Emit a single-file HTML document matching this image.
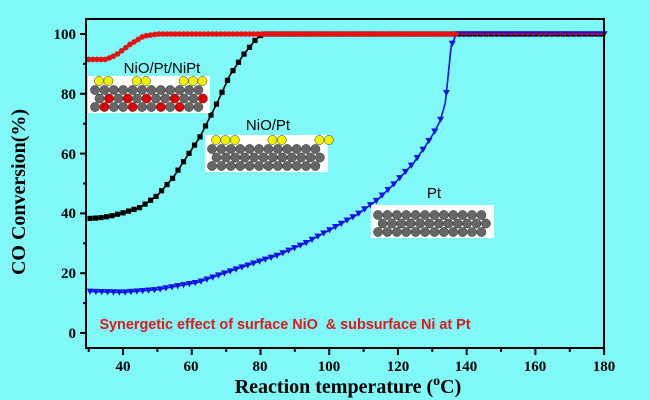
<!DOCTYPE html>
<html><head><meta charset="utf-8"><style>
html,body{margin:0;padding:0;background:#80F8F8;}
svg{display:block;}
</style></head><body>
<svg id="s" width="650" height="400" xmlns="http://www.w3.org/2000/svg">
<rect width="650" height="400" fill="#80F8F8"/>
<g id="plot"></g>
<rect x="86" y="19" width="518" height="329" fill="none" stroke="#000" stroke-width="2"/>
<g font-family="Liberation Serif, serif" font-weight="bold" font-size="15" fill="#000">
<text x="76" y="39" text-anchor="end">100</text>
<text x="76" y="99" text-anchor="end">80</text>
<text x="76" y="159" text-anchor="end">60</text>
<text x="76" y="218" text-anchor="end">40</text>
<text x="76" y="278" text-anchor="end">20</text>
<text x="76" y="338" text-anchor="end">0</text>
<text x="123" y="371" text-anchor="middle">40</text>
<text x="191" y="371" text-anchor="middle">60</text>
<text x="260" y="371" text-anchor="middle">80</text>
<text x="329" y="371" text-anchor="middle">100</text>
<text x="398" y="371" text-anchor="middle">120</text>
<text x="466" y="371" text-anchor="middle">140</text>
<text x="535" y="371" text-anchor="middle">160</text>
<text x="604" y="371" text-anchor="middle">180</text>
<text x="348" y="393" text-anchor="middle" font-size="20">Reaction temperature (<tspan font-size="14" dy="-8">o</tspan><tspan dy="8">C)</tspan></text>
<text transform="translate(25,192) rotate(-90)" text-anchor="middle" font-size="20">CO Conversion(%)</text>
</g>
<text x="285" y="329" text-anchor="middle" font-family="Liberation Sans, sans-serif" font-weight="bold" font-size="14.4" fill="#e01818">Synergetic effect of surface NiO&#160; &amp; subsurface Ni at Pt</text>
<g font-family="Liberation Sans, sans-serif" font-size="15" fill="#000">
<text x="162" y="73" text-anchor="middle">NiO/Pt/NiPt</text>
<text x="268" y="130" text-anchor="middle">NiO/Pt</text>
<text x="434" y="198" text-anchor="middle">Pt</text>
</g>
<g id="ins"></g>
</svg>
<script>
var NS="http://www.w3.org/2000/svg";
function el(p,t,a){var e=document.createElementNS(NS,t);for(var k in a)e.setAttribute(k,a[k]);p.appendChild(e);return e;}
var P=document.getElementById('plot'),I=document.getElementById('ins');
function X(x){return 88.7+(x-30)*3.436;}
function Y(v){return 333-v*2.99;}
function interp(pts,x){for(var i=0;i<pts.length-1;i++){if(x<=pts[i+1][0]){var a=pts[i],b=pts[i+1];return a[1]+(b[1]-a[1])*(x-a[0])/(b[0]-a[0]);}}return pts[pts.length-1][1];}
var ax=document.getElementById('s');
for(var v=0;v<=100;v+=10){var y=Y(v);el(ax,'line',{x1:v%20==0?80:83,x2:86,y1:y,y2:y,stroke:'#000','stroke-width':2});}
for(var x=30;x<=180;x+=10){var xx=X(x);el(ax,'line',{x1:xx,x2:xx,y1:348,y2:x%20==0?355:352,stroke:'#000','stroke-width':2});}
var blue=[[30,13.9],[40,13.6],[50,14.5],[62,17],[72,21],[85,26],[93,30],[101,35],[108,39.5],[114,44.5],[119,50],[124.5,56.8],[128,62.5],[130.5,67],[132.3,71],[133.8,77],[135.5,96],[137,100],[180,100]];
var black=[[30,38.3],[33,38.5],[36,39],[40,40.2],[45,42],[50,46],[54.6,52],[58,58],[62.4,65.6],[67.4,77],[71,86],[75,93],[78.5,98],[80.5,100],[180,100]];
var red=[[30,91.5],[35,91.5],[38,93],[42,96.5],[46,99.3],[50,100],[180,100]];
function series(pts,col,mk,step){
 var d='';for(var x=30;x<=180;x+=0.25){d+=(x==30?'M':'L')+X(x).toFixed(1)+','+Y(interp(pts,x)).toFixed(1);}
 el(P,'path',{d:d,fill:'none',stroke:col,'stroke-width':1.6});
 for(var x=30.4;x<=180;x+=step){var cx=X(x),cy=Y(interp(pts,x));
  if(mk=='s')el(P,'rect',{x:cx-2.6,y:cy-2.6,width:5.2,height:5.2,fill:col});
  else el(P,'path',{d:'M'+(cx-3.5)+','+(cy-2.8)+'L'+(cx+3.5)+','+(cy-2.8)+'L'+cx+','+(cy+3.4)+'Z',fill:col});}
}
series(black,'#000','s',1.6);series(blue,'#1010e8','t',1.7);
(function(){var d='';for(var x=30;x<=180;x+=0.5){d+=(x==30?'M':'L')+X(x).toFixed(1)+','+Y(interp(red,x)).toFixed(1);}
el(P,'path',{d:d,fill:'none',stroke:'#e00000','stroke-width':1.5});
for(var x=30;x<=138;x+=1.2)el(P,'circle',{cx:X(x),cy:Y(interp(red,x)),r:2.8,fill:'#e81010'});})();
function ball(cx,cy,c){el(I,'circle',{cx:cx,cy:cy,r:4.6,fill:c,stroke:'#333','stroke-width':0.5});}
function slab(x0,y0,w,h,yellow,reds){
 el(I,'rect',{x:x0,y:y0,width:w,height:h,fill:'#fff'});
 var rows=3,by=y0+h-6;
 for(var r=0;r<rows;r++){var off=(r%2)?4.5:0;for(var i=0;i<12;i++){var c='#666';
  if(reds&&reds.indexOf(r*20+i)>=0)c='#e00000';ball(x0+7+off+i*9.4,by-r*8.5,c);}}
 if(yellow)yellow.forEach(function(i){ball(x0+11+i*9.4,y0+5,'#f0f000');});
}
slab(88,76,122,37,[0,1,4,5,9,10,11],[1,4,7,9,21,23,25,28,31,33,35]);
slab(205,135,123,37,[0,1,2,6,7,11,12]);
slab(371,205,123,33,null);
</script>
</body></html>
